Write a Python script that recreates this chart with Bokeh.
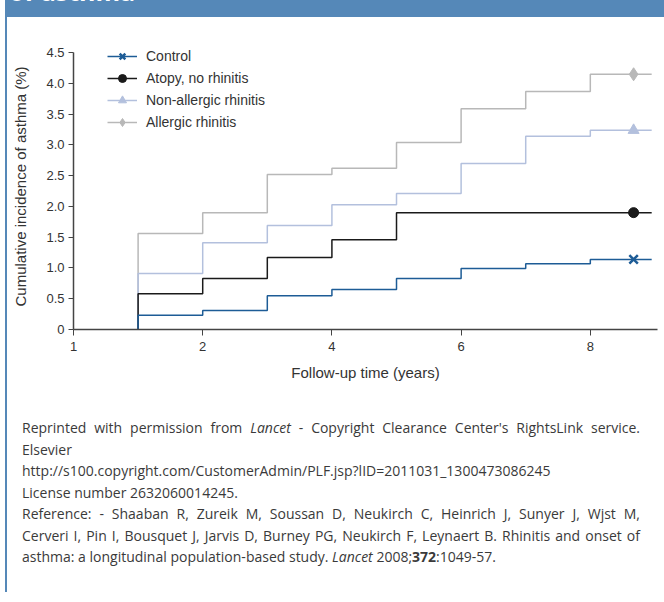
from bokeh.plotting import figure
from bokeh.models import Div, FixedTicker, Legend, LegendItem, NumeralTickFormatter
from bokeh.layouts import column, row
from bokeh.embed import file_html
from bokeh.resources import INLINE

# ---------------- data ----------------
follow_up_years = [1, 2, 3, 4, 5, 6, 7, 8]
end_year = 8.95
marker_year = 8.67

series_names = ["Control", "Atopy, no rhinitis", "Non-allergic rhinitis", "Allergic rhinitis"]
control = [0.23, 0.31, 0.55, 0.65, 0.83, 0.99, 1.07, 1.14]
atopy_no_rhinitis = [0.58, 0.83, 1.17, 1.46, 1.90, 1.90, 1.90, 1.90]
non_allergic_rhinitis = [0.91, 1.41, 1.69, 2.03, 2.21, 2.70, 3.14, 3.24]
allergic_rhinitis = [1.56, 1.90, 2.52, 2.62, 3.04, 3.59, 3.87, 4.15]

x_tick_positions = [0, 2, 4, 6, 8]
x_tick_labels = ["1", "2", "4", "6", "8"]
y_tick_positions = [0, 0.5, 1.0, 1.5, 2.0, 2.5, 3.0, 3.5, 4.0, 4.5]
y_tick_labels = ["0", "0.5", "1.0", "1.5", "2.0", "2.5", "3.0", "3.5", "4.0", "4.5"]

# ---------------- styles ----------------
BLUE_HDR = "#5588b8"
FONT = "Liberation Sans"
TXT = "#333333"

styles = {
    "Control": dict(color="#1d5c96", marker="x", size=12, lw=2.5),
    "Atopy, no rhinitis": dict(color="#1a1a1a", marker="circle", size=10, lw=1),
    "Non-allergic rhinitis": dict(color="#b3c0dd", marker="triangle", size=11, lw=1),
    "Allergic rhinitis": dict(color="#b8b8b8", marker="diamond", size=13, lw=1),
}
values = {
    "Control": control,
    "Atopy, no rhinitis": atopy_no_rhinitis,
    "Non-allergic rhinitis": non_allergic_rhinitis,
    "Allergic rhinitis": allergic_rhinitis,
}

p = figure(width=657, height=383, x_range=(0, 9.04), y_range=(0, 4.65),
           output_backend="svg", toolbar_location=None,
           min_border_left=66, min_border_right=7, min_border_top=26, min_border_bottom=71)
p.outline_line_color = None
p.xgrid.visible = False
p.ygrid.visible = False
p.background_fill_color = "white"
p.border_fill_color = "white"

items = {}
for name in reversed(series_names):
    st = styles[name]
    vals = values[name]
    xs = [follow_up_years[0]] + follow_up_years + [end_year]
    ys = [0] + vals + [vals[-1]]
    ln = p.step(xs, ys, mode="after", line_color=st["color"], line_width=1.5)
    if st["marker"] == "x":
        mk = p.scatter([marker_year], [vals[-1]], marker="x", size=st["size"],
                       line_color=st["color"], line_width=st["lw"])
    else:
        mk = p.scatter([marker_year], [vals[-1]], marker=st["marker"], size=st["size"],
                       fill_color=st["color"], line_color=st["color"], line_width=st["lw"])
    items[name] = LegendItem(label=name, renderers=[ln, mk])

legend = Legend(items=[items[n] for n in series_names], location=(34, 197),
                glyph_width=30, glyph_height=20, label_height=20, spacing=2,
                padding=0, margin=0, label_standoff=9,
                border_line_color=None, background_fill_alpha=0,
                label_text_font=FONT, label_text_font_size="14px", label_text_color=TXT)
p.add_layout(legend, "center")

# axes
for ax in (p.xaxis[0], p.yaxis[0]):
    ax.axis_line_color = "#444444"
    ax.axis_line_width = 1.5
    ax.major_tick_line_color = "#444444"
    ax.major_tick_in = 0
    ax.minor_tick_line_color = None
    ax.major_label_text_font = FONT
    ax.major_label_text_font_size = "13px"
    ax.major_label_text_color = TXT
    ax.axis_label_text_font = FONT
    ax.axis_label_text_font_size = "15px"
    ax.axis_label_text_font_style = "normal"
    ax.axis_label_text_color = TXT

p.xaxis.ticker = FixedTicker(ticks=x_tick_positions)
p.xaxis.major_label_overrides = dict(zip(x_tick_positions, x_tick_labels))
p.xaxis.major_tick_out = 6
p.xaxis.major_label_standoff = 6
p.xaxis.axis_label = "Follow-up time (years)"
p.xaxis.axis_label_standoff = 10

p.yaxis.ticker = FixedTicker(ticks=y_tick_positions)
p.yaxis.formatter = NumeralTickFormatter(format="0.0")
p.yaxis.major_label_overrides = dict(zip(y_tick_positions, y_tick_labels))
p.yaxis.bounds = (y_tick_positions[0], y_tick_positions[-1])
p.yaxis.major_tick_out = 5
p.yaxis.major_label_standoff = 4
p.yaxis.axis_label = "Cumulative incidence of asthma (%)"
p.yaxis.axis_label_standoff = 14

# ---------------- surrounding page ----------------
header = Div(
    text='<div style="font-family:\'Open Sans\';font-weight:bold;font-size:25px;line-height:25px;'
         'color:white;position:relative;top:-21px;left:4px;white-space:nowrap;">of asthma</div>',
    width=659, height=17, margin=(0, 0, 0, 0),
    styles={"background-color": BLUE_HDR, "overflow": "hidden"})

vline = Div(text="", width=2, height=575, margin=(0, 0, 0, 0),
            styles={"background-color": BLUE_HDR})

par_style = "font-family:'Open Sans';font-size:14px;color:#3a3a3a;line-height:21.5px;"
J = "text-align:justify;text-align-last:justify;white-space:nowrap;"
text_html = (
    f'<div style="{par_style}width:633px;padding-left:15px;padding-top:17px;">'
    f'<div style="{J}">Reprinted with permission from <i>Lancet</i> - Copyright Clearance Center\'s RightsLink service.</div>'
    '<div>Elsevier</div>'
    '<div>http://s100.copyright.com/CustomerAdmin/PLF.jsp?lID=2011031_1300473086245</div>'
    '<div>License number 2632060014245.</div>'
    f'<div style="{J}">Reference: - Shaaban R, Zureik M, Soussan D, Neukirch C, Heinrich J, Sunyer J, Wjst M,</div>'
    f'<div style="{J}">Cerveri I, Pin I, Bousquet J, Jarvis D, Burney PG, Neukirch F, Leynaert B. Rhinitis and onset of</div>'
    '<div>asthma: a longitudinal population-based study. <i>Lancet</i> 2008;<b>372</b>:1049-57.</div>'
    '</div>'
)
text_div = Div(text=text_html, width=657, height=192, margin=(0, 0, 0, 0))

inner = column(p, text_div, spacing=0, margin=(0, 0, 0, 0))
body = row(vline, inner, spacing=0, margin=(0, 0, 0, 0))
root = column(header, body, spacing=0, margin=(0, 0, 0, 5))

open("out.html", "w").write(file_html(root, INLINE))
